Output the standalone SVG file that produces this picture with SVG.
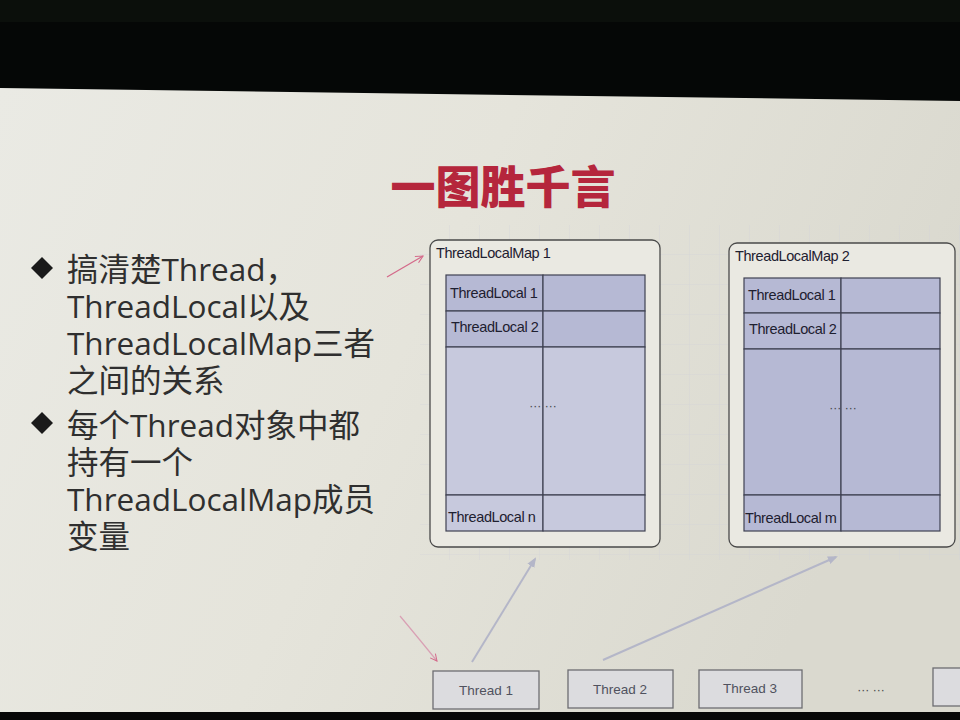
<svg xmlns="http://www.w3.org/2000/svg" width="960" height="720" viewBox="0 0 960 720">
<defs>
<linearGradient id="bg" x1="0" y1="0" x2="1" y2="0.3">
<stop offset="0" stop-color="#eaeae4"/>
<stop offset="0.5" stop-color="#e5e4db"/>
<stop offset="1" stop-color="#dad9cf"/>
</linearGradient>
<pattern id="grid" width="30" height="30" patternUnits="userSpaceOnUse" x="420" y="225">
<path d="M30 0V30M0 30H30" fill="none" stroke="#d0d1d8" stroke-width="1"/>
</pattern>
<marker id="ag" viewBox="0 0 10 10" refX="8" refY="5" markerWidth="5" markerHeight="5" orient="auto">
<path d="M0 1 L10 5 L0 9 Z" fill="#b4b6c8"/>
</marker>
<marker id="ar" viewBox="0 0 10 10" refX="9" refY="5" markerWidth="7" markerHeight="7" orient="auto">
<path d="M1 1 L9 5 L1 9" fill="none" stroke="#d46a8a" stroke-width="1.2"/>
</marker>
</defs>
<style>
.bul{font-family:"Open Sans","Noto Sans CJK SC",sans-serif;font-size:31.5px;fill:#2f2f2f}
.lab{font-family:"Liberation Sans",Arial,sans-serif;font-size:14.5px;fill:#1e2030;letter-spacing:-0.4px}
.out{fill:#eae9e2;stroke:#4a4a4a;stroke-width:1.3}
.cellA{fill:#b6b9d4;stroke:#3f4152;stroke-width:1.2}
.cellB{fill:#c7c9dd;stroke:#3f4152;stroke-width:1.2}
.thr{fill:#dcdcdf;stroke:#6d6d72;stroke-width:1.3}
.thl{font-family:"Liberation Sans",Arial,sans-serif;font-size:13.5px;fill:#50525e;text-anchor:middle}
.dots{font-family:"Liberation Sans",Arial,sans-serif;font-size:12px;fill:#444;text-anchor:middle}
</style>
<rect x="0" y="0" width="960" height="720" fill="#050706"/>
<rect x="0" y="0" width="960" height="22" fill="#0b0f0b"/>
<polygon points="0,88 960,101 960,712 0,712" fill="url(#bg)"/>
<rect x="420" y="225" width="540" height="335" fill="url(#grid)" opacity="0.6"/>
<rect x="0" y="712" width="960" height="8" fill="#070707"/>

<g id="title">
<text x="503" y="204" text-anchor="middle" font-family="Noto Sans CJK SC,sans-serif" font-weight="900" font-size="45" fill="#b5263c">一图胜千言</text>
</g>

<g id="bullets">
<path d="M42 257 L53 268 L42 279 L31 268 Z" fill="#1a1a1a"/>
<text class="bul" x="67" y="281">搞清楚Thread，</text>
<text class="bul" x="67" y="318">ThreadLocal以及</text>
<text class="bul" x="67" y="355">ThreadLocalMap三者</text>
<text class="bul" x="67" y="392">之间的关系</text>
<path d="M42 412 L53 423 L42 434 L31 423 Z" fill="#1a1a1a"/>
<text class="bul" x="67" y="437">每个Thread对象中都</text>
<text class="bul" x="67" y="474">持有一个</text>
<text class="bul" x="67" y="511">ThreadLocalMap成员</text>
<text class="bul" x="67" y="548">变量</text>
</g>

<g id="map1">
<rect class="out" x="430" y="240" width="230" height="307" rx="8"/>
<text class="lab" x="436" y="258">ThreadLocalMap 1</text>
<rect class="cellA" x="446" y="275" width="97" height="36"/>
<rect class="cellA" x="543" y="275" width="102" height="36"/>
<rect class="cellA" x="446" y="311" width="97" height="36"/>
<rect class="cellA" x="543" y="311" width="102" height="36"/>
<rect class="cellB" x="446" y="347" width="97" height="148"/>
<rect class="cellB" x="543" y="347" width="102" height="148"/>
<rect class="cellB" x="446" y="495" width="97" height="36"/>
<rect class="cellB" x="543" y="495" width="102" height="36"/>
<text class="lab" x="450" y="298">ThreadLocal 1</text>
<text class="lab" x="451" y="332">ThreadLocal 2</text>
<text class="lab" x="448" y="522" fill="#3a3c50">ThreadLocal n</text>
<text class="dots" x="543" y="410">··· ···</text>
</g>

<g id="map2">
<rect class="out" x="729" y="243" width="226" height="304" rx="8"/>
<text class="lab" x="735" y="261">ThreadLocalMap 2</text>
<rect class="cellA" x="744" y="278" width="97" height="35"/>
<rect class="cellA" x="841" y="278" width="99" height="35"/>
<rect class="cellA" x="744" y="313" width="97" height="36"/>
<rect class="cellA" x="841" y="313" width="99" height="36"/>
<rect class="cellA" x="744" y="349" width="97" height="146"/>
<rect class="cellA" x="841" y="349" width="99" height="146"/>
<rect class="cellA" x="744" y="495" width="97" height="36"/>
<rect class="cellA" x="841" y="495" width="99" height="36"/>
<text class="lab" x="748" y="300">ThreadLocal 1</text>
<text class="lab" x="749" y="334">ThreadLocal 2</text>
<text class="lab" x="745" y="523" fill="#3a3c50">ThreadLocal m</text>
<text class="dots" x="843" y="412">··· ···</text>
</g>

<g id="thread1">
<rect class="thr" x="433" y="671" width="106" height="38"/>
<text class="thl" x="486" y="695">Thread 1</text>
</g>
<g id="thread2">
<rect class="thr" x="568" y="670" width="105" height="38"/>
<text class="thl" x="620" y="694">Thread 2</text>
</g>
<g id="thread3">
<rect class="thr" x="699" y="670" width="103" height="38"/>
<text class="thl" x="750" y="693">Thread 3</text>
</g>
<g id="ellipsis">
<text class="dots" x="871" y="694">··· ···</text>
</g>
<g id="threadN">
<rect class="thr" x="933" y="668" width="40" height="38"/>
</g>

<g id="connectors">
<line x1="472" y1="662" x2="535" y2="559" stroke="#b4b6c8" stroke-width="2" marker-end="url(#ag)"/>
<line x1="603" y1="660" x2="836" y2="557" stroke="#b4b6c8" stroke-width="2" marker-end="url(#ag)"/>
<line x1="387" y1="277" x2="423" y2="256" stroke="#d46a8a" stroke-width="1.3" marker-end="url(#ar)"/>
<path d="M400 616 Q420 640 437 661" fill="none" stroke="#d9a0b4" stroke-width="1.2" marker-end="url(#ar)"/>
</g>
</svg>
